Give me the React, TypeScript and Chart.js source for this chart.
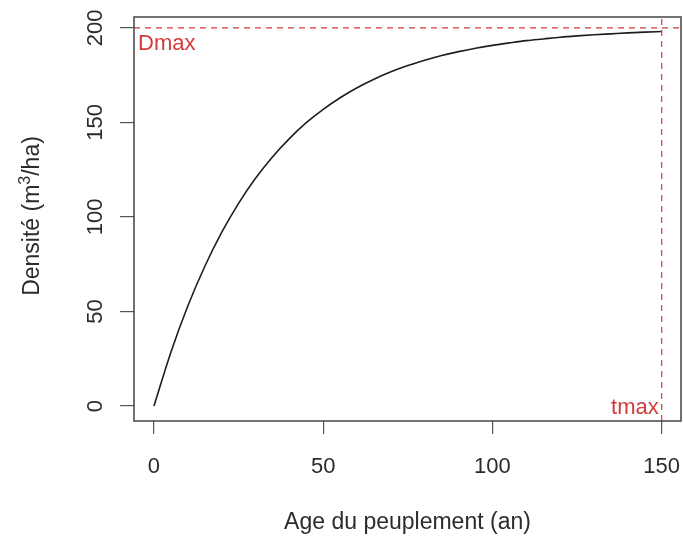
import React, { useEffect, useRef } from "react";
import { Chart, registerables } from "chart.js";

Chart.register(...registerables);

// Data
const AGES = [0, 5, 10, 15, 20, 25, 30, 35, 40, 45, 50, 55, 60, 65, 70, 75, 80, 85, 90, 95, 100, 105, 110, 115, 120, 125, 130, 135, 140, 145, 150];
const DENSITE = [0, 28.5, 52.9, 73.8, 91.8, 107.2, 120.4, 131.7, 141.4, 149.8, 156.9, 163.0, 168.3, 172.8, 176.7, 180.0, 182.8, 185.3, 187.4, 189.2, 190.7, 192.0, 193.2, 194.1, 195.0, 195.7, 196.3, 196.8, 197.3, 197.7, 198.0];

const X_TICKS = [0, 50, 100, 150];
const Y_TICKS = [0, 50, 100, 150, 200];

const X_MIN = -5.9;
const X_MAX = 155.7;
const Y_MIN = -7.9;
const Y_MAX = 205.7;

const DMAX = 200;
const TMAX = 150;

const X_TITLE = "Age du peuplement (an)";
const Y_TITLE_A = "Densité (m";
const Y_TITLE_SUP = "3";
const Y_TITLE_B = "/ha)";
const DMAX_LABEL = "Dmax";
const TMAX_LABEL = "tmax";

const FONT = '"Liberation Sans", Arial, Helvetica, sans-serif';
const TEXT_COLOR = "#2b2b2b";
const RED = "#d43a3a";

const rPlotPlugin = {
  id: "rPlot",
  afterDraw(chart: any) {
    const { ctx, chartArea, scales } = chart;
    const x = scales.x;
    const y = scales.y;
    ctx.save();
    // box
    ctx.setLineDash([]);
    ctx.strokeStyle = "#444";
    ctx.lineWidth = 1.5;
    ctx.strokeRect(chartArea.left, chartArea.top, chartArea.right - chartArea.left, chartArea.bottom - chartArea.top);

    // tick labels
    ctx.fillStyle = TEXT_COLOR;
    ctx.font = `22px ${FONT}`;
    ctx.textAlign = "center";
    ctx.textBaseline = "alphabetic";
    X_TICKS.forEach((v) => {
      ctx.fillText(String(v), x.getPixelForValue(v), 473);
    });
    Y_TICKS.forEach((v) => {
      ctx.save();
      ctx.translate(102, y.getPixelForValue(v));
      ctx.rotate(-Math.PI / 2);
      ctx.fillText(String(v), 0, 0);
      ctx.restore();
    });

    // x title
    ctx.font = `23px ${FONT}`;
    ctx.fillText(X_TITLE, (chartArea.left + chartArea.right) / 2, 529);

    // y title with superscript
    ctx.save();
    ctx.translate(39, 216);
    ctx.rotate(-Math.PI / 2);
    ctx.textAlign = "left";
    const bigFont = `23px ${FONT}`;
    const supFont = `16px ${FONT}`;
    ctx.font = bigFont;
    const wa = ctx.measureText(Y_TITLE_A).width;
    const wb = ctx.measureText(Y_TITLE_B).width;
    ctx.font = supFont;
    const ws = ctx.measureText(Y_TITLE_SUP).width;
    const total = wa + ws + wb;
    let cx = -total / 2;
    ctx.font = bigFont;
    ctx.fillText(Y_TITLE_A, cx, 0);
    cx += wa;
    ctx.font = supFont;
    ctx.fillText(Y_TITLE_SUP, cx, -9);
    cx += ws;
    ctx.font = bigFont;
    ctx.fillText(Y_TITLE_B, cx, 0);
    ctx.restore();

    // red labels
    ctx.fillStyle = RED;
    ctx.font = `22px ${FONT}`;
    ctx.textAlign = "left";
    ctx.textBaseline = "alphabetic";
    ctx.fillText(DMAX_LABEL, chartArea.left + 4, y.getPixelForValue(DMAX) + 22);
    ctx.textAlign = "right";
    ctx.fillText(TMAX_LABEL, x.getPixelForValue(TMAX) - 3, y.getPixelForValue(0) + 8);
    ctx.restore();
  },
};

export default function App() {
  const ref = useRef<HTMLCanvasElement | null>(null);

  useEffect(() => {
    if (!ref.current) return;
    const curve = AGES.map((a, i) => ({ x: a, y: DENSITE[i] }));
    const chart = new Chart(ref.current, {
      type: "scatter",
      data: {
        datasets: [
          {
            data: [
              { x: X_MIN, y: DMAX },
              { x: X_MAX, y: DMAX },
            ],
            showLine: true,
            borderColor: RED,
            borderWidth: 1.2,
            borderDash: [6, 5],
            pointRadius: 0,
          },
          {
            data: [
              { x: TMAX, y: Y_MIN },
              { x: TMAX, y: Y_MAX },
            ],
            showLine: true,
            borderColor: RED,
            borderWidth: 1.2,
            borderDash: [6, 5],
            pointRadius: 0,
          },
          {
            data: curve,
            showLine: true,
            borderColor: "#1e1e1e",
            borderWidth: 1.6,
            pointRadius: 0,
            cubicInterpolationMode: "monotone",
          },
        ],
      },
      options: {
        responsive: false,
        animation: false,
        layout: { padding: { left: 0, right: 2, top: 17, bottom: 0 } },
        plugins: { legend: { display: false }, tooltip: { enabled: false } },
        scales: {
          x: {
            type: "linear",
            min: X_MIN,
            max: X_MAX,
            afterBuildTicks: (s: any) => {
              s.ticks = X_TICKS.map((v) => ({ value: v }));
            },
            afterFit: (s: any) => {
              s.height = 117;
            },
            ticks: { display: false },
            border: { display: false },
            grid: { drawOnChartArea: false, drawTicks: true, tickLength: 13, color: "#555", lineWidth: 1.2 },
          },
          y: {
            type: "linear",
            min: Y_MIN,
            max: Y_MAX,
            afterBuildTicks: (s: any) => {
              s.ticks = Y_TICKS.map((v) => ({ value: v }));
            },
            afterFit: (s: any) => {
              s.width = 134;
            },
            ticks: { display: false },
            border: { display: false },
            grid: { drawOnChartArea: false, drawTicks: true, tickLength: 14, color: "#555", lineWidth: 1.2 },
          },
        },
      },
      plugins: [rPlotPlugin],
    });
    return () => chart.destroy();
  }, []);

  return (
    <div style={{ position: "fixed", left: 0, top: 0, width: 683, height: 538, background: "#fff" }}>
      <canvas ref={ref} width={683} height={538} style={{ display: "block" }} />
    </div>
  );
}
